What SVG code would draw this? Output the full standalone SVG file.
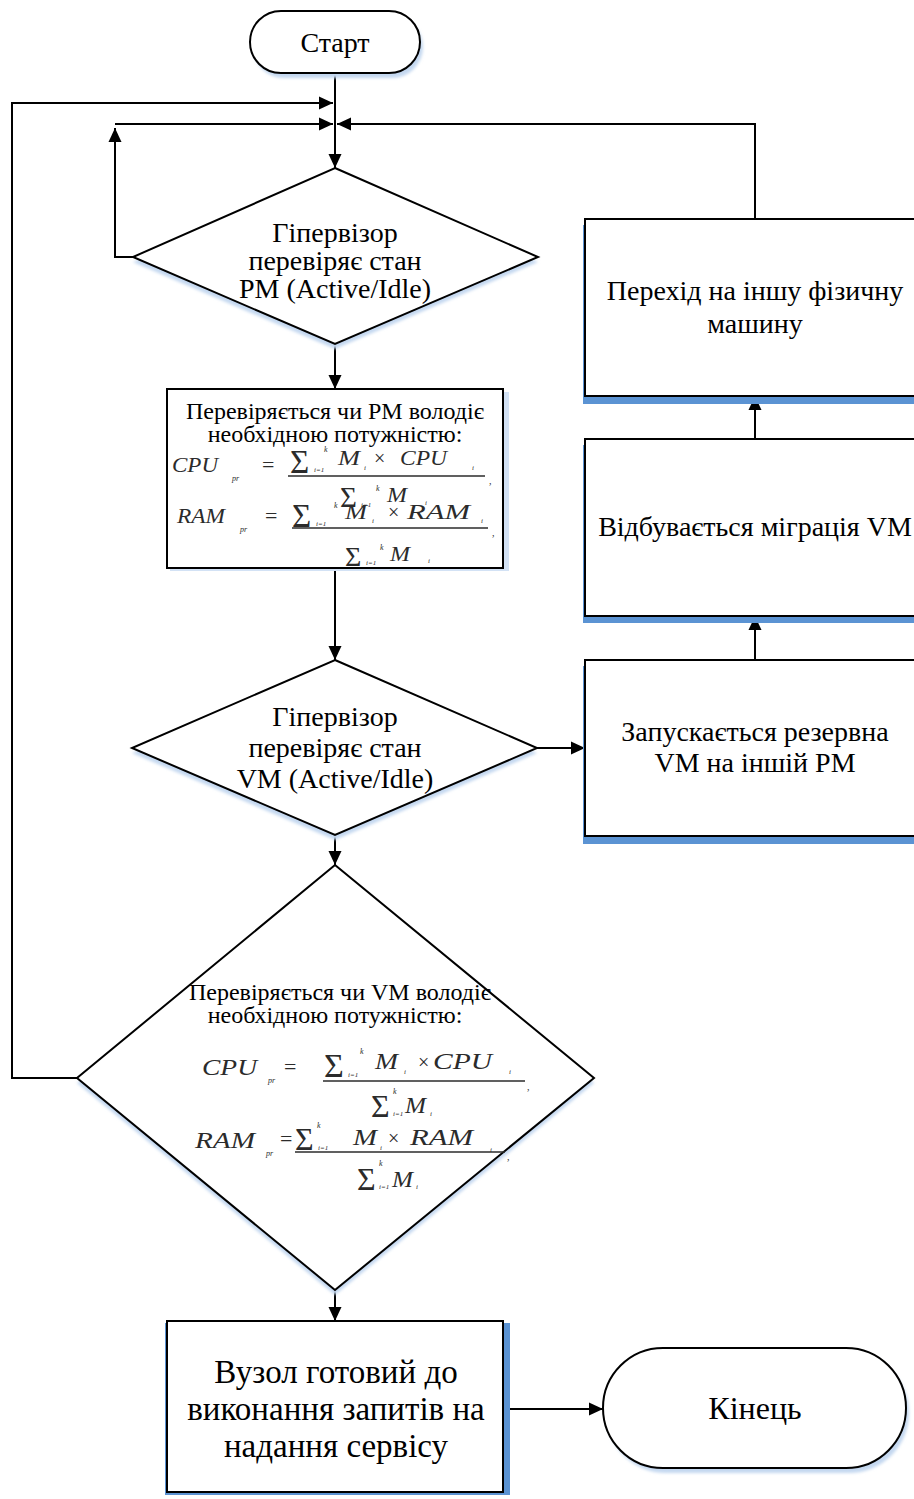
<svg xmlns="http://www.w3.org/2000/svg" width="914" height="1499" viewBox="0 0 914 1499">
<style>
.ln{stroke:#000;stroke-width:2;fill:none}
.sh{fill:#fff;stroke:#000;stroke-width:2}
.t{font-family:"Liberation Serif","Times New Roman",serif;fill:#000;text-anchor:middle}
.f{font-family:"Liberation Serif","Times New Roman",serif;font-style:italic;fill:#2b2b2b}
.fn{font-family:"Liberation Serif","Times New Roman",serif;fill:#2b2b2b}
.fl{stroke:#2b2b2b;stroke-width:1.6}
.blue{fill:#5b93d3}
.halo{fill:#c4d8f0}
</style>
<defs>
<marker id="ah" viewBox="0 0 14 14" refX="14" refY="7" markerWidth="14" markerHeight="14" markerUnits="userSpaceOnUse" orient="auto">
<path d="M0,0.5 L14,7 L0,13.5 z" fill="#000"/>
</marker>
<filter id="blur" x="-10%" y="-10%" width="120%" height="120%"><feGaussianBlur stdDeviation="1.6"/></filter>
</defs>

<g id="connectors">
<line class="ln" x1="335" y1="73" x2="335" y2="168" marker-end="url(#ah)"/>
<polyline class="ln" points="77,1078 12,1078 12,103 333,103" marker-end="url(#ah)"/>
<polyline class="ln" points="133,257 115,257 115,128" marker-end="url(#ah)"/>
<line class="ln" x1="115" y1="124" x2="333" y2="124" marker-end="url(#ah)"/>
<polyline class="ln" points="755,219 755,124 337,124" marker-end="url(#ah)"/>
<line class="ln" x1="335" y1="344" x2="335" y2="389" marker-end="url(#ah)"/>
<line class="ln" x1="335" y1="568" x2="335" y2="660" marker-end="url(#ah)"/>
<line class="ln" x1="537" y1="748" x2="585" y2="748" marker-end="url(#ah)"/>
<line class="ln" x1="755" y1="660" x2="755" y2="616" marker-end="url(#ah)"/>
<line class="ln" x1="755" y1="439" x2="755" y2="396" marker-end="url(#ah)"/>
<line class="ln" x1="335" y1="835" x2="335" y2="865" marker-end="url(#ah)"/>
<line class="ln" x1="335" y1="1290" x2="335" y2="1321" marker-end="url(#ah)"/>
<line class="ln" x1="503" y1="1409" x2="603" y2="1409" marker-end="url(#ah)"/>
</g>

<g id="start">
<rect class="halo" x="253" y="16" width="170" height="62" rx="31" filter="url(#blur)"/>
<rect class="sh" x="250" y="11" width="170" height="62" rx="31"/>
<text class="t" x="335" y="52" font-size="28">Старт</text>
</g>

<g id="check-pm">
<polygon class="halo" points="335,173 538,262 335,349 133,262" filter="url(#blur)"/>
<polygon class="sh" points="335,168 538,257 335,344 133,257"/>
<text class="t" font-size="28"><tspan x="335" y="242">Гіпервізор</tspan><tspan x="335" y="270">перевіряє стан</tspan><tspan x="335" y="298">PM (Active/Idle)</tspan></text>
</g>

<g id="pm-power">
<rect fill="#d3e2f5" x="170" y="392" width="339" height="179"/>
<rect class="sh" x="167" y="389" width="336" height="179"/>
<text class="t" font-size="24"><tspan x="335" y="419">Перевіряється чи PM володіє</tspan><tspan x="335" y="442">необхідною потужністю:</tspan></text>
<text class="f" x="172" y="472" font-size="22" textLength="46" lengthAdjust="spacingAndGlyphs">CPU</text>
<text class="f" x="232" y="481" font-size="8">pr</text>
<text class="fn" x="262" y="472" font-size="22">=</text>
<text class="fn" x="290" y="473" font-size="33">Σ</text>
<text class="f" x="324" y="452" font-size="8">k</text>
<text class="f" x="314" y="472" font-size="7">i=1</text>
<text class="f" x="338" y="465" font-size="22" textLength="22" lengthAdjust="spacingAndGlyphs">M</text>
<text class="f" x="364" y="470" font-size="7">i</text>
<text class="fn" x="374" y="465" font-size="20">×</text>
<text class="f" x="400" y="465" font-size="22" textLength="47" lengthAdjust="spacingAndGlyphs">CPU</text>
<text class="f" x="472" y="470" font-size="7">i</text>
<line class="fl" x1="288" y1="476" x2="485" y2="476"/>
<text class="fn" x="489" y="484" font-size="10">,</text>
<text class="fn" x="340" y="507" font-size="29">Σ</text>
<text class="f" x="376" y="491" font-size="8">k</text>
<text class="f" x="361" y="507" font-size="7">i=1</text>
<text class="f" x="387" y="502" font-size="21" textLength="20" lengthAdjust="spacingAndGlyphs">M</text>
<text class="f" x="425" y="505" font-size="7">i</text>
<text class="f" x="177" y="523" font-size="22" textLength="48" lengthAdjust="spacingAndGlyphs">RAM</text>
<text class="f" x="240" y="532" font-size="8">pr</text>
<text class="fn" x="265" y="523" font-size="22">=</text>
<text class="fn" x="292" y="527" font-size="33">Σ</text>
<text class="f" x="334" y="508" font-size="8">k</text>
<text class="f" x="316" y="526" font-size="7">i=1</text>
<text class="f" x="345" y="519" font-size="21" textLength="22" lengthAdjust="spacingAndGlyphs">M</text>
<text class="f" x="372" y="523" font-size="7">i</text>
<text class="fn" x="388" y="519" font-size="20">×</text>
<text class="f" x="407" y="519" font-size="22" textLength="63" lengthAdjust="spacingAndGlyphs">RAM</text>
<text class="f" x="481" y="523" font-size="7">i</text>
<line class="fl" x1="292" y1="528" x2="488" y2="528"/>
<text class="fn" x="492" y="536" font-size="10">,</text>
<text class="fn" x="345" y="566" font-size="28">Σ</text>
<text class="f" x="380" y="550" font-size="8">k</text>
<text class="f" x="366" y="565" font-size="7">i=1</text>
<text class="f" x="390" y="561" font-size="21" textLength="20" lengthAdjust="spacingAndGlyphs">M</text>
<text class="f" x="428" y="563" font-size="7">i</text>
</g>

<g id="check-vm">
<polygon class="halo" points="335,665 537,753 335,840 132,753" filter="url(#blur)"/>
<polygon class="sh" points="335,660 537,748 335,835 132,748"/>
<text class="t" font-size="28"><tspan x="335" y="726">Гіпервізор</tspan><tspan x="335" y="757">перевіряє стан</tspan><tspan x="335" y="788">VM (Active/Idle)</tspan></text>
</g>

<g id="vm-power">
<polygon class="halo" points="335,870 594,1083 335,1295 77,1083" filter="url(#blur)"/>
<polygon class="sh" points="335,865 594,1078 335,1290 77,1078"/>
<text class="t" font-size="24"><tspan x="340" y="1000">Перевіряється чи VM володіє</tspan><tspan x="335" y="1023">необхідною потужністю:</tspan></text>
<text class="f" x="202" y="1075" font-size="23" textLength="55" lengthAdjust="spacingAndGlyphs">CPU</text>
<text class="f" x="268" y="1083" font-size="8">pr</text>
<text class="fn" x="284" y="1074" font-size="22">=</text>
<text class="fn" x="324" y="1077" font-size="34">Σ</text>
<text class="f" x="360" y="1054" font-size="8">k</text>
<text class="f" x="348" y="1077" font-size="7">i=1</text>
<text class="f" x="375" y="1069" font-size="23" textLength="23" lengthAdjust="spacingAndGlyphs">M</text>
<text class="f" x="404" y="1074" font-size="7">i</text>
<text class="fn" x="418" y="1069" font-size="20">×</text>
<text class="f" x="433" y="1069" font-size="23" textLength="59" lengthAdjust="spacingAndGlyphs">CPU</text>
<text class="f" x="509" y="1074" font-size="7">i</text>
<line class="fl" x1="323" y1="1081" x2="525" y2="1081"/>
<text class="fn" x="527" y="1090" font-size="10">,</text>
<text class="fn" x="371" y="1117" font-size="32">Σ</text>
<text class="f" x="393" y="1094" font-size="8">k</text>
<text class="f" x="393" y="1116" font-size="7">i=1</text>
<text class="f" x="405" y="1113" font-size="23" textLength="21" lengthAdjust="spacingAndGlyphs">M</text>
<text class="f" x="430" y="1116" font-size="7">i</text>
<text class="f" x="195" y="1148" font-size="23" textLength="60" lengthAdjust="spacingAndGlyphs">RAM</text>
<text class="f" x="266" y="1156" font-size="8">pr</text>
<text class="fn" x="280" y="1146" font-size="22">=</text>
<text class="fn" x="295" y="1150" font-size="32">Σ</text>
<text class="f" x="317" y="1128" font-size="8">k</text>
<text class="f" x="318" y="1150" font-size="7">i=1</text>
<text class="f" x="353" y="1145" font-size="23" textLength="24" lengthAdjust="spacingAndGlyphs">M</text>
<text class="f" x="380" y="1150" font-size="7">i</text>
<text class="fn" x="388" y="1145" font-size="20">×</text>
<text class="f" x="410" y="1145" font-size="23" textLength="63" lengthAdjust="spacingAndGlyphs">RAM</text>
<text class="f" x="490" y="1152" font-size="7">i</text>
<line class="fl" x1="295" y1="1152" x2="505" y2="1152"/>
<text class="fn" x="507" y="1160" font-size="10">,</text>
<text class="fn" x="357" y="1190" font-size="32">Σ</text>
<text class="f" x="379" y="1166" font-size="8">k</text>
<text class="f" x="379" y="1189" font-size="7">i=1</text>
<text class="f" x="392" y="1187" font-size="23" textLength="21" lengthAdjust="spacingAndGlyphs">M</text>
<text class="f" x="416" y="1189" font-size="7">i</text>
</g>

<g id="switch-pm">
<rect class="blue" x="583" y="225" width="340" height="179"/>
<rect class="sh" x="585" y="219" width="340" height="177"/>
<text class="t" font-size="28"><tspan x="755" y="300">Перехід на іншу фізичну</tspan><tspan x="755" y="333">машину</tspan></text>
</g>

<g id="migration">
<rect class="blue" x="583" y="445" width="340" height="178"/>
<rect class="sh" x="585" y="439" width="340" height="177"/>
<text class="t" x="755" y="536" font-size="28">Відбувається міграція VM</text>
</g>

<g id="backup-vm">
<rect class="blue" x="583" y="666" width="340" height="178"/>
<rect class="sh" x="585" y="660" width="340" height="176"/>
<text class="t" font-size="28"><tspan x="755" y="741">Запускається резервна</tspan><tspan x="755" y="772">VM на іншій PM</tspan></text>
</g>

<g id="ready">
<rect class="blue" x="165" y="1323" width="345" height="172"/>
<rect class="sh" x="167" y="1321" width="336" height="171"/>
<text class="t" font-size="33"><tspan x="336" y="1383">Вузол готовий до</tspan><tspan x="336" y="1420">виконання запитів на</tspan><tspan x="336" y="1457">надання сервісу</tspan></text>
</g>

<g id="end">
<rect class="halo" x="606" y="1353" width="303" height="120" rx="60" filter="url(#blur)"/>
<rect class="sh" x="603" y="1348" width="303" height="120" rx="60"/>
<text class="t" x="755" y="1419" font-size="32">Кінець</text>
</g>
</svg>
